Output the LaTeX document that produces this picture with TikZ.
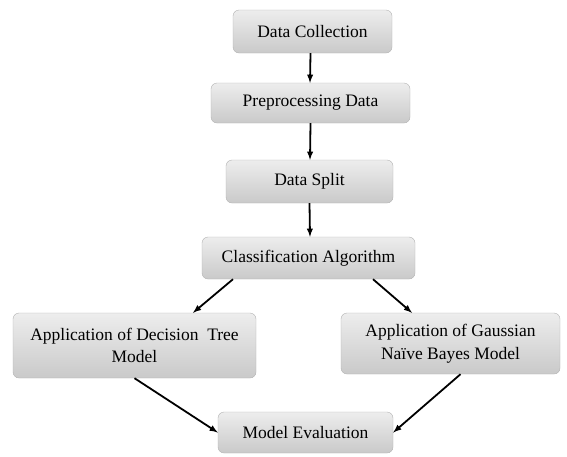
\documentclass[tikz,border=0pt]{standalone}
\usepackage{fontspec}
\setmainfont{Liberation Serif}
\usetikzlibrary{arrows}

\begin{document}
\begin{tikzpicture}[x=1pt,y=-1pt,
  box/.style={draw=gray!60,rounded corners=6pt,top color=gray!14,bottom color=gray!42,
    align=center,inner sep=2pt,font=\fontsize{17.5}{22.5}\selectfont},
  flow/.style={black,line width=1.8pt,-latex}]
  \useasboundingbox (0,0) rectangle (567,456);

  \node[box,minimum width=159pt,minimum height=43pt] (dc) at (312.5,31.5) {Data Collection};
  \node[box,minimum width=199pt,minimum height=40pt] (pp) at (310.5,103) {Preprocessing Data};
  \node[box,minimum width=167pt,minimum height=43pt] (ds) at (309.5,181.5) {Data Split};
  \node[box,minimum width=213pt,minimum height=42pt] (ca) at (308.5,258) {Classification Algorithm};
  \node[box,minimum width=243pt,minimum height=65pt] (dt) at (134.5,345.5) {Application of Decision\ \ Tree\\Model};
  \node[box,minimum width=219pt,minimum height=61pt] (gnb) at (450.5,343.5) {Application of Gaussian\\Naïve Bayes Model};
  \node[box,minimum width=175pt,minimum height=41pt] (me) at (305.5,432.5) {Model Evaluation};

  \draw[flow] ([xshift=-2pt]dc.south) -- ([xshift=-0.5pt]pp.north);
  \draw[flow] (pp.south) -- ([xshift=0.5pt]ds.north);
  \draw[flow] (ds.south) -- ([xshift=1.5pt]ca.north);
  \draw[flow] ([xshift=-75.5pt]ca.south) -- ([xshift=58.5pt]dt.north);
  \draw[flow] ([xshift=64.5pt]ca.south) -- ([xshift=-38.5pt]gnb.north);
  \draw[flow] (dt.south) -- (me.west);
  \draw[flow] ([xshift=10pt]gnb.south) -- (me.east);
\end{tikzpicture}
\end{document}
